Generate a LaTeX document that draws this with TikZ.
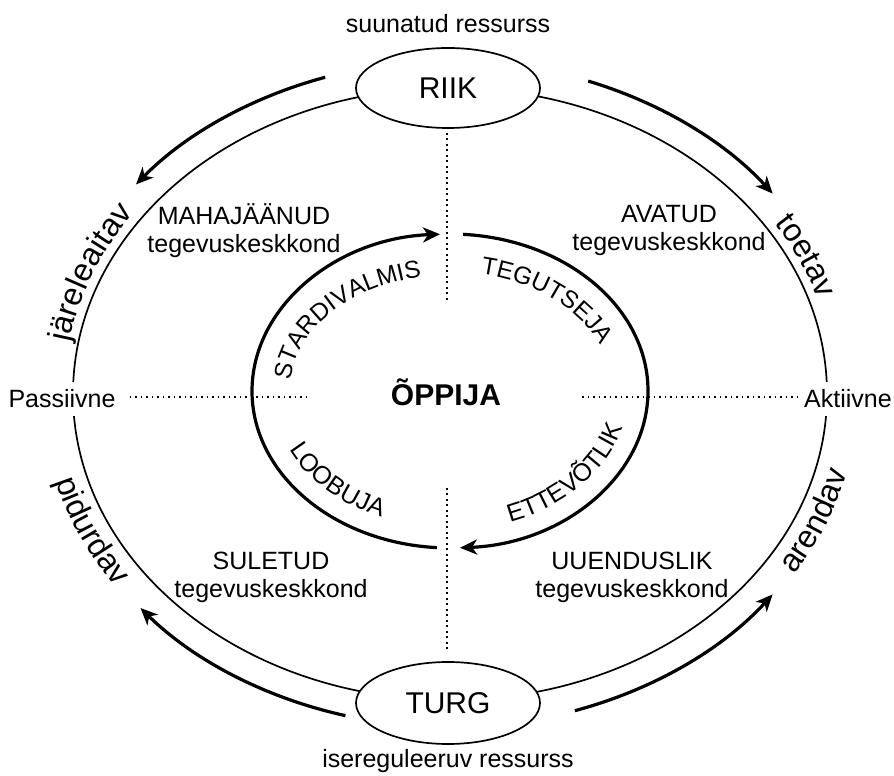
\documentclass[tikz,border=0pt]{standalone}
\usepackage{fontspec}
\setmainfont{Liberation Sans}
\usetikzlibrary{arrows.meta,decorations.text,shapes.geometric}
\begin{document}
\begin{tikzpicture}[x=1pt,y=1pt,
  thinline/.style={line width=1.7pt},
  thickline/.style={line width=3.2pt},
  arr/.style={line width=3.2pt,-{Stealth[length=17pt,width=15pt,inset=5pt]}},
  dots/.style={line width=1.7pt,dash pattern=on 1.7pt off 3.8pt},
  lbl/.style={font=\fontsize{25}{28}\selectfont,align=center,inner sep=0pt},
  actor/.style={ellipse,draw,line width=1.7pt,fill=white,minimum width=184pt,minimum height=80pt,inner sep=0pt,font=\fontsize{30}{30}\selectfont},
  side/.style={font=\fontsize{25}{28}\selectfont,fill=white,inner xsep=2pt,inner ysep=8pt},
]
\useasboundingbox (0,0) rectangle (894,776);
% outer ellipse
\draw[thinline] (450,382) ellipse[x radius=377,y radius=306];
% inner ellipse arcs
\draw[thickline,-{Stealth[length=17pt,width=15pt,inset=5pt]}] ([shift={(266.2:198 and 157)}]450,385) arc[start angle=266.2,end angle=92.9,x radius=198,y radius=157];
\draw[thickline,-{Stealth[length=17pt,width=15pt,inset=5pt]}] ([shift={(86.2:198 and 157)}]450,385) arc[start angle=86.2,end angle=-87.1,x radius=198,y radius=157];
% outer arrows
\draw[arr] ([shift={(108:404 and 333)}]450,382) arc[start angle=108,end angle=141,x radius=404,y radius=333];
\draw[arr] ([shift={(70:404 and 333)}]450,382) arc[start angle=70,end angle=37,x radius=404,y radius=333];
\draw[arr] ([shift={(255:404 and 333)}]450,382) arc[start angle=255,end angle=220,x radius=404,y radius=333];
\draw[arr] ([shift={(288:404 and 333)}]450,382) arc[start angle=288,end angle=323,x radius=404,y radius=333];
% actors
\node[actor] (riik) at (448,688) {RIIK};
\node[actor,minimum height=82pt] (turg) at (448,73) {TURG};
\node[lbl,anchor=base] (suun) at (448,743) {suunatud ressurss};
\node[lbl,anchor=base] (iser) at (448,8) {isereguleeruv ressurss};
% side labels
\node[side] (pass) at (62,377) {Passiivne};
\node[side] (akt) at (848,377) {Aktiivne};
\node[font=\fontsize{30}{30}\selectfont\bfseries,anchor=base,inner sep=0pt] (oppija) at (446,370) {ÕPPIJA};
% dotted lines
\coordinate (pl2) at (308,379);
\coordinate (pr1) at (582,379);
\coordinate (vt) at (447,473);
\coordinate (vb) at (447,288);
\draw[dots] ([xshift=12pt,yshift=2pt]pass.east) -- (pl2);
\draw[dots] (pr1) -- ([xshift=-5pt,yshift=2pt]akt.west);
\draw[dots] ([xshift=-1pt,yshift=-4pt]riik.south) -- (vt);
\draw[dots] (vb) -- ([xshift=-1pt,yshift=9pt]turg.north);
% quadrant labels
\node[lbl] (maha) at (244,545) {MAHAJÄÄNUD\\tegevuskeskkond};
\node[lbl] (avat) at (669,545) {AVATUD\\tegevuskeskkond};
\node[lbl] (sule) at (271,199) {SULETUD\\tegevuskeskkond};
\node[lbl] (uuen) at (632,199) {UUENDUSLIK\\tegevuskeskkond};
% inner curved labels
\path[decorate,decoration={text along path,text align=center,text={|\fontsize{24.5}{25}\selectfont|STARDIVALMIS}}] ([shift={(201:160 and 116)}]450,385) arc[start angle=201,end angle=81,x radius=160,y radius=116];
\path[decorate,decoration={text along path,text align=center,text={|\fontsize{24.5}{25}\selectfont|TEGUTSEJA}}] ([shift={(102:163 and 119)}]450,385) arc[start angle=102,end angle=-8,x radius=163,y radius=119];
\path[decorate,decoration={text along path,text align=center,text={|\fontsize{25}{25}\selectfont|LOOBUJA}}] ([shift={(173:178 and 137)}]450,385) arc[start angle=173,end angle=273,x radius=178,y radius=137];
\path[decorate,decoration={text along path,text align=center,text={|\fontsize{25}{25}\selectfont|ETTEVÕTLIK}}] ([shift={(-99:179 and 139)}]450,385) arc[start angle=-99,end angle=21,x radius=179,y radius=139];
% outer curved labels
\path[decorate,decoration={text along path,text align=center,text={|\fontsize{32}{32}\selectfont|järeleaitav}}] ([shift={(194:386 and 315)}]450,382) arc[start angle=194,end angle=124,x radius=386,y radius=315];
\path[decorate,decoration={text along path,text align=center,text={|\fontsize{32}{32}\selectfont|toetav}}] ([shift={(54:386 and 315)}]450,382) arc[start angle=54,end angle=-6,x radius=386,y radius=315];
\path[decorate,decoration={text along path,text align=center,text={|\fontsize{32}{32}\selectfont|pidurdav}}] ([shift={(174:408 and 337)}]450,382) arc[start angle=174,end angle=234,x radius=408,y radius=337];
\path[decorate,decoration={text along path,text align=center,text={|\fontsize{32}{32}\selectfont|arendav}}] ([shift={(-52:408 and 337)}]450,382) arc[start angle=-52,end angle=8,x radius=408,y radius=337];
\end{tikzpicture}
\end{document}
